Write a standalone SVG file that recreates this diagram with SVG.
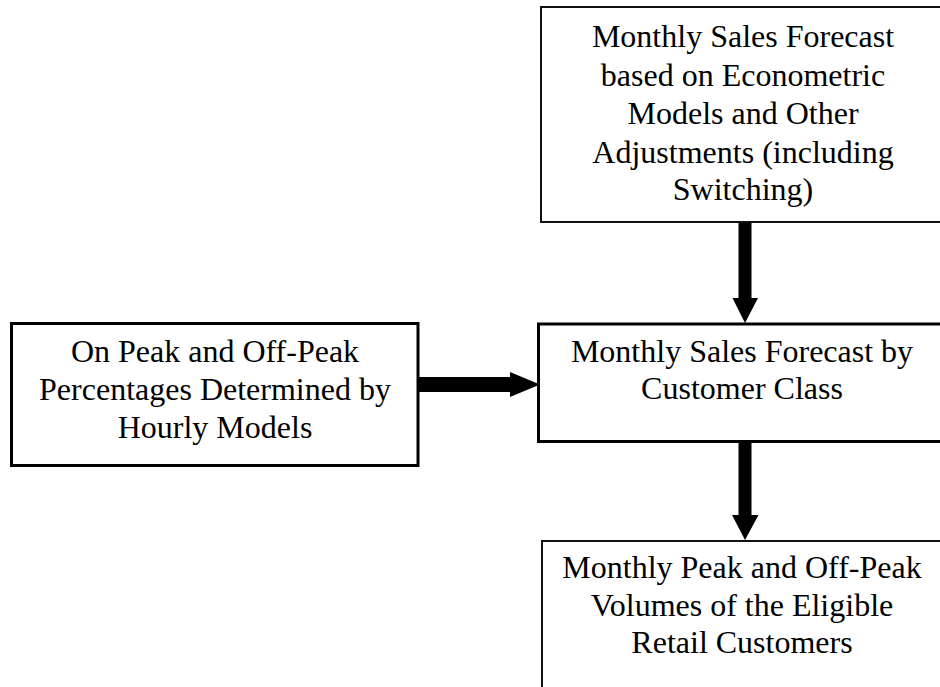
<svg xmlns="http://www.w3.org/2000/svg" width="940" height="687" viewBox="0 0 940 687">
<style>
.box{fill:#fff;stroke:#000}
.thin{stroke-width:2;stroke:#111}
.thick{stroke-width:3}
text{font-family:"Liberation Serif","Times New Roman",serif;font-size:32px;fill:#000;text-anchor:middle}
.arrow{fill:#000;stroke:none}
</style>
<rect width="940" height="687" fill="#fff"/>
<g id="node-econometric">
<rect class="box thin" x="541" y="7" width="410" height="215"/>
<text x="743" y="47">Monthly Sales Forecast</text>
<text x="743" y="85.5">based on Econometric</text>
<text x="743" y="124">Models and Other</text>
<text x="743" y="162.5">Adjustments (including</text>
<text x="743" y="200">Switching)</text>
</g>
<g id="node-customer-class">
<rect class="box thick" x="538.5" y="324" width="410" height="117.5"/>
<text x="742" y="362">Monthly Sales Forecast by</text>
<text x="742" y="399">Customer Class</text>
</g>
<g id="node-hourly">
<rect class="box thick" x="11.5" y="323.5" width="406.5" height="142"/>
<text x="215" y="362">On Peak and Off-Peak</text>
<text x="215" y="400">Percentages Determined by</text>
<text x="215" y="438">Hourly Models</text>
</g>
<g id="node-volumes">
<rect class="box thin" x="542" y="541" width="410" height="160"/>
<text x="742" y="578">Monthly Peak and Off-Peak</text>
<text x="742" y="616">Volumes of the Eligible</text>
<text x="742" y="653">Retail Customers</text>
</g>
<g id="connectors">
<polygon class="arrow" points="738.5,223 751.5,223 751.5,298 758,298 745,323 732.5,298 738.5,298"/>
<polygon class="arrow" points="738.5,443 751.5,443 751.5,515 758.5,515 745,540 732,515 738.5,515"/>
<polygon class="arrow" points="419,377 510,377 510,372 540,384.5 510,397 510,392 419,392"/>
</g>
</svg>
